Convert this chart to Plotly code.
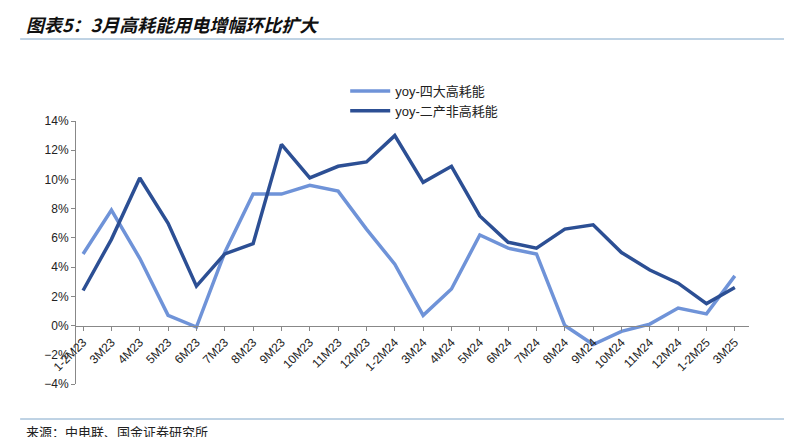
import plotly.graph_objects as go

months = ["1-2M23", "3M23", "4M23", "5M23", "6M23", "7M23", "8M23", "9M23", "10M23",
          "11M23", "12M23", "1-2M24", "3M24", "4M24", "5M24", "6M24", "7M24", "8M24",
          "9M24", "10M24", "11M24", "12M24", "1-2M25", "3M25"]
yoy_four = [4.9, 7.9, 4.6, 0.7, -0.1, 5.0, 9.0, 9.0, 9.6, 9.2, 6.6, 4.2, 0.7, 2.5,
            6.2, 5.3, 4.9, 0.0, -1.3, -0.4, 0.1, 1.2, 0.8, 3.4]
yoy_non = [2.4, 5.9, 10.1, 7.0, 2.7, 4.9, 5.6, 12.4, 10.1, 10.9, 11.2, 13.0, 9.8, 10.9,
           7.5, 5.7, 5.3, 6.6, 6.9, 5.0, 3.8, 2.9, 1.5, 2.6]
x = list(range(len(months)))

fig = go.Figure()
fig.add_trace(go.Scatter(x=x, y=yoy_four, mode="lines", name="yoy-四大高耗能",
                         line=dict(color="#6f93d8", width=3.5)))
fig.add_trace(go.Scatter(x=x, y=yoy_non, mode="lines", name="yoy-二产非高耗能",
                         line=dict(color="#2c4f94", width=3.5)))

font = "Liberation Sans, Noto Sans CJK SC"
fig.update_layout(
    width=792, height=437, margin=dict(l=68, r=51, t=113, b=61, autoexpand=False),
    plot_bgcolor="white", paper_bgcolor="white",
    font=dict(family=font, size=12, color="#222"),
    legend=dict(x=0.4, y=1 - 68 / 437, xref="paper", yref="container",
                xanchor="left", yanchor="top",
                font=dict(size=13), tracegroupgap=2, itemwidth=40),
    xaxis=dict(range=[-0.25, 23.5], tickvals=x, ticktext=months, tickangle=-45,
               showgrid=False, showline=True, linecolor="#888", linewidth=1,
               ticks="outside", tickcolor="#888", ticklen=4,
               anchor="free", position=4 / 18, tickfont=dict(size=12),
               zeroline=False),
    yaxis=dict(range=[-4, 14], dtick=2, ticksuffix="%", showgrid=False,
               showline=True, linecolor="#888", ticks="outside", tickcolor="#888",
               ticklen=4, zeroline=False, tickfont=dict(size=12)),
)
fig.add_annotation(text="<b><i>图表5：3月高耗能用电增幅环比扩大</i></b>", xref="paper", yref="paper",
                   x=-0.078, y=(376 - 16) / 263, xanchor="left", yanchor="middle",
                   showarrow=False, font=dict(size=18, color="#111", family="Noto Sans CJK SC"))
fig.add_annotation(text="来源：中电联、国金证券研究所", xref="paper", yref="paper",
                   x=-0.078, y=(376 - 423) / 263, xanchor="left", yanchor="middle",
                   showarrow=False, font=dict(size=13, color="#222", family="Noto Sans CJK SC"))
fig.add_shape(type="line", xref="paper", yref="paper", x0=-0.083, x1=1.07,
              y0=(376 - 31) / 263, y1=(376 - 31) / 263, line=dict(color="#7ea6c9", width=1))
fig.add_shape(type="line", xref="paper", yref="paper", x0=-0.083, x1=1.07,
              y0=(376 - 411) / 263, y1=(376 - 411) / 263, line=dict(color="#7ea6c9", width=1))
fig.write_html("out.html")
